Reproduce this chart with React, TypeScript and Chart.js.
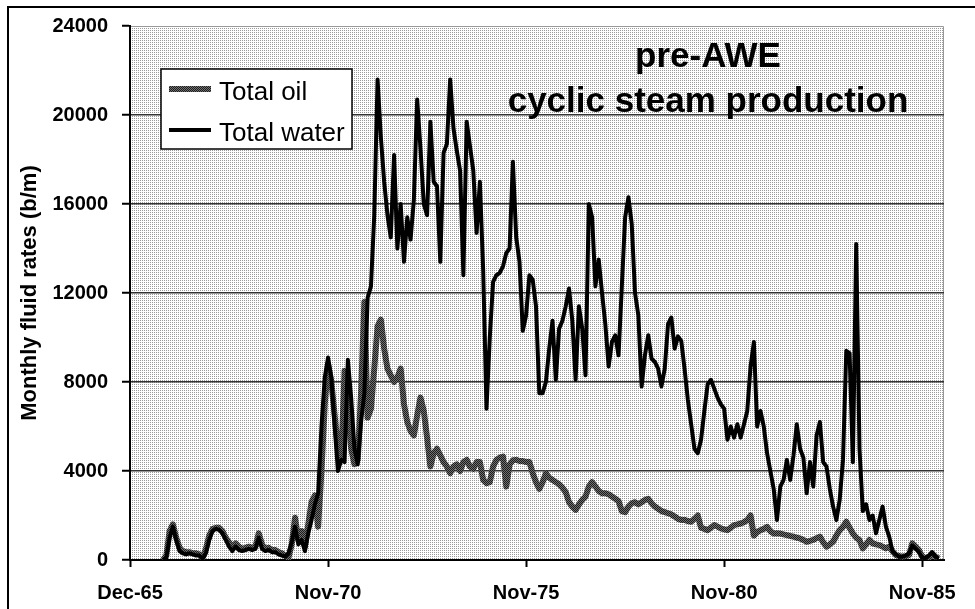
import React, { useEffect, useRef } from "react";
import { Chart, registerables } from "chart.js";

Chart.register(...registerables);

// ---- data ----
const START_MONTH = 10; // first data month, counted from Dec-65 (= month 0)
const xTickMonths = [0, 60, 120, 180, 240];
const xTickLabels = ["Dec-65", "Nov-70", "Nov-75", "Nov-80", "Nov-85"];
const yTickValues = [0, 4000, 8000, 12000, 16000, 20000, 24000];
const seriesNames = ["Total oil", "Total water"];
const titleLines = ["pre-AWE", "cyclic steam production"];
const yAxisTitle = "Monthly fluid rates (b/m)";

// monthly rates, month 10 .. 245
const oilRates = [
  0, 200, 1300, 1600, 1000, 550, 400, 350, 350, 300,
  300, 250, 100, 500, 1100, 1400, 1450, 1450, 1300, 1000,
  800, 550, 750, 600, 500, 550, 600, 550, 600, 1200,
  700, 500, 550, 450, 450, 350, 300, 200, 100, 700,
  1900, 900, 1300, 600, 1600, 2600, 2900, 1500, 4000, 7000,
  8800, 8000, 6500, 5000, 4500, 8500, 7000, 5000, 4300, 4500,
  7500, 11600, 6400, 6800, 8600, 10500, 10800, 9500, 8600, 8300,
  8000, 8200, 8600, 7000, 6200, 5800, 5600, 6500, 7300, 6700,
  5500, 4200, 4800, 5000, 4700, 4400, 4200, 3900, 4200, 4300,
  4000, 4400, 4500, 4200, 4100, 4400, 4400, 3600, 3450, 3500,
  4200, 4500, 4600, 4650, 3300, 4300, 4480, 4500, 4450, 4450,
  4400, 4400, 3900, 3500, 3200, 3500, 3900, 3700, 3600, 3500,
  3400, 3250, 3050, 2600, 2400, 2250, 2500, 2700, 2850, 3300,
  3500, 3300, 3100, 3000, 3000, 2950, 2850, 2750, 2650, 2200,
  2150, 2400, 2550, 2600, 2500, 2600, 2700, 2750, 2550, 2400,
  2300, 2200, 2150, 2100, 2050, 1950, 1850, 1800, 1800, 1750,
  1720, 1850, 2000, 1450, 1400, 1340, 1450, 1570, 1500, 1420,
  1380, 1340, 1450, 1570, 1600, 1640, 1700, 1790, 2000, 1100,
  1250, 1340, 1400, 1490, 1300, 1190, 1200, 1190, 1150, 1120,
  1080, 1050, 1000, 970, 900, 820, 860, 900, 980, 1050,
  800, 600, 700, 820, 1100, 1340, 1490, 1720, 1450, 1190,
  1000, 900, 520, 700, 900, 750, 700, 670, 600, 520,
  600, 400, 220, 180, 150, 180, 220, 750, 600, 450,
  150, 100, 75, 300, 150, 75,
];

const waterRates = [
  0, 100, 1000, 1500, 900, 400, 300, 250, 300, 250,
  200, 200, 50, 300, 900, 1300, 1400, 1350, 1200, 900,
  600, 400, 600, 450, 400, 450, 500, 450, 500, 1000,
  500, 400, 450, 350, 350, 250, 200, 150, 300, 800,
  1500, 700, 900, 400, 1200, 1800, 2500, 3000, 6000, 8200,
  9100, 8200, 6000, 4000, 4500, 4400, 9000, 7300, 5000, 4300,
  6200, 7500, 11800, 12300, 15500, 21600, 19000, 17000, 15500, 14500,
  18200, 14000, 16000, 13400, 15400, 14400, 16200, 20700, 18500, 16000,
  15500, 19700, 17000, 16800, 13400, 18300, 18700, 21600, 19400, 18400,
  17500, 12800, 19700, 18600, 17500, 14700, 17000, 13000, 6800, 10000,
  12500, 12800, 12900, 13200, 13800, 14000, 17900, 14500, 13400, 10300,
  11000, 12800, 12600, 11400, 7500, 7500, 8000, 9500, 10750, 8100,
  10400, 10750, 11400, 12200, 10750, 8100, 11400, 10400, 8300, 16000,
  15400, 12300, 13500, 12000, 10600, 8700, 9800, 10100, 9200, 12300,
  15400, 16300, 15100, 12000, 11000, 7800, 9200, 10100, 9050, 8900,
  8600, 7800, 8600, 10600, 10900, 9500, 10050, 9850, 8600, 7200,
  6100, 5000, 4800, 5400, 6700, 7900, 8100, 7700, 7300, 7000,
  6800, 5400, 6000, 5500, 6100, 5500, 6100, 6700, 8700, 9800,
  6000, 6700, 6000, 4800, 4000, 3200, 1800, 3300, 3600, 4500,
  3600, 4700, 6100, 5000, 4600, 3000, 4400, 3300, 5600, 6200,
  4400, 4200, 3200, 2400, 1800, 2700, 4500, 9400, 9300, 4400,
  14200, 5000, 2200, 2500, 1800, 2000, 1200, 1800, 2400, 1500,
  1050, 400, 250, 150, 150, 200, 300, 650, 500, 350,
  100, 80, 200, 350, 150, 60,
];

const FONT = '"Liberation Sans", Arial, Helvetica, sans-serif';

function makePattern(colors: string[][]): CanvasPattern | string {
  const c = document.createElement("canvas");
  c.width = colors[0].length;
  c.height = colors.length;
  const g = c.getContext("2d");
  if (!g) return colors[0][0];
  for (let y = 0; y < colors.length; y++) {
    for (let x = 0; x < colors[y].length; x++) {
      g.fillStyle = colors[y][x];
      g.fillRect(x, y, 1, 1);
    }
  }
  const p = g.createPattern(c, "repeat");
  return p || colors[0][0];
}

export default function App() {
  const canvasRef = useRef<HTMLCanvasElement | null>(null);

  useEffect(() => {
    const canvas = canvasRef.current;
    if (!canvas) return;

    const bgPattern = makePattern([
      ["#9a9a9a", "#ffffff"],
      ["#ffffff", "#ffffff"],
    ]);
    const oilPattern = makePattern([
      ["#1c1c1c", "#707070"],
      ["#707070", "#1c1c1c"],
    ]);

    const toPoints = (arr: number[]) =>
      arr.map((v, i) => ({ x: START_MONTH + i, y: v }));

    const backgroundPlugin = {
      id: "bgFrame",
      beforeDraw(chart: any) {
        const { ctx, chartArea, width, height } = chart;
        ctx.save();
        ctx.fillStyle = "#ffffff";
        ctx.fillRect(0, 0, width, height);
        // outer frame (top + left visible)
        ctx.fillStyle = "#000";
        ctx.fillRect(7, 6, width - 7, 2);
        ctx.fillRect(7, 6, 2, height - 6);
        // plot background
        ctx.fillStyle = bgPattern;
        ctx.fillRect(
          chartArea.left,
          chartArea.top,
          chartArea.right - chartArea.left,
          chartArea.bottom - chartArea.top
        );
        ctx.strokeStyle = "#999";
        ctx.lineWidth = 1;
        ctx.beginPath();
        ctx.moveTo(chartArea.left, chartArea.top + 0.5);
        ctx.lineTo(chartArea.right - 0.5, chartArea.top + 0.5);
        ctx.lineTo(chartArea.right - 0.5, chartArea.bottom);
        ctx.stroke();
        ctx.restore();
      },
    };

    const overlayPlugin = {
      id: "overlay",
      afterDraw(chart: any) {
        const { ctx, chartArea } = chart;
        ctx.save();
        // title
        ctx.fillStyle = "#000";
        ctx.font = `bold 35px ${FONT}`;
        ctx.textAlign = "center";
        ctx.textBaseline = "alphabetic";
        const cx = chartArea.right - 236;
        ctx.fillText(titleLines[0], cx, chartArea.top + 41);
        ctx.fillText(titleLines[1], cx, chartArea.top + 86);

        // legend box
        const lx = chartArea.left + 31;
        const ly = chartArea.top + 43;
        const lw = 191;
        const lh = 80;
        ctx.fillStyle = "#fff";
        ctx.fillRect(lx, ly, lw, lh);
        ctx.strokeStyle = "#000";
        ctx.lineWidth = 1.5;
        ctx.strokeRect(lx, ly, lw, lh);

        ctx.lineCap = "butt";
        ctx.strokeStyle = oilPattern;
        ctx.lineWidth = 6;
        ctx.beginPath();
        ctx.moveTo(lx + 8, ly + 20);
        ctx.lineTo(lx + 50, ly + 20);
        ctx.stroke();

        ctx.strokeStyle = "#000";
        ctx.lineWidth = 4;
        ctx.beginPath();
        ctx.moveTo(lx + 8, ly + 61);
        ctx.lineTo(lx + 50, ly + 61);
        ctx.stroke();

        ctx.fillStyle = "#000";
        ctx.font = `26px ${FONT}`;
        ctx.textAlign = "left";
        ctx.textBaseline = "alphabetic";
        ctx.fillText(seriesNames[0], lx + 58, ly + 31);
        ctx.fillText(seriesNames[1], lx + 58, ly + 72);
        ctx.restore();
      },
    };

    const chart = new Chart(canvas, {
      type: "line",
      data: {
        datasets: [
          {
            label: seriesNames[0],
            data: toPoints(oilRates),
            borderColor: oilPattern as any,
            borderWidth: 6,
            pointRadius: 0,
            tension: 0,
            fill: false,
            borderJoinStyle: "round",
            order: 2,
          },
          {
            label: seriesNames[1],
            data: toPoints(waterRates),
            borderColor: "#000",
            borderWidth: 4,
            pointRadius: 0,
            tension: 0,
            fill: false,
            borderJoinStyle: "round",
            order: 1,
          },
        ],
      },
      options: {
        animation: false,
        responsive: true,
        maintainAspectRatio: false,
        devicePixelRatio: 1,
        layout: { padding: { top: 24, right: 31, left: 0, bottom: 0 } },
        plugins: {
          legend: { display: false },
          title: { display: false },
          tooltip: { enabled: false },
        },
        scales: {
          x: {
            type: "linear",
            min: 0,
            max: 246.6,
            afterBuildTicks: (s: any) => {
              s.ticks = xTickMonths.map((v) => ({ value: v }));
            },
            afterFit: (s: any) => {
              s.height = 49;
            },
            grid: {
              drawOnChartArea: false,
              drawTicks: true,
              tickLength: 7,
              tickColor: "#000",
              tickWidth: 2,
            },
            border: { display: true, color: "#000", width: 2 },
            ticks: {
              autoSkip: false,
              maxRotation: 0,
              padding: 14,
              color: "#000",
              font: { family: FONT, size: 20, weight: "bold" },
              callback: (v: any) => {
                const i = xTickMonths.indexOf(Number(v));
                return i >= 0 ? xTickLabels[i] : "";
              },
            },
          },
          y: {
            type: "linear",
            min: 0,
            max: 24000,
            afterBuildTicks: (s: any) => {
              s.ticks = yTickValues.map((v) => ({ value: v }));
            },
            afterFit: (s: any) => {
              s.width = 130;
            },
            grid: {
              color: (c: any) => {
                const v = c.tick ? c.tick.value : null;
                return v === 0 || v === 24000 ? "rgba(0,0,0,0)" : "#333";
              },
              lineWidth: 1.5,
              drawTicks: true,
              tickLength: 8,
              tickColor: "#000",
              tickWidth: 2,
            },
            border: { display: true, color: "#000", width: 2 },
            ticks: {
              padding: 14,
              color: "#000",
              font: { family: FONT, size: 20, weight: "bold" },
              callback: (v: any) => String(v),
            },
            title: {
              display: true,
              text: yAxisTitle,
              color: "#000",
              font: { family: FONT, size: 22, weight: "bold" },
              padding: { top: 17, bottom: 0 },
            },
          },
        },
      },
      plugins: [backgroundPlugin, overlayPlugin],
    } as any);

    return () => {
      chart.destroy();
    };
  }, []);

  return (
    <div
      style={{
        position: "absolute",
        left: 0,
        top: 0,
        width: 975,
        height: 609,
        background: "#fff",
        overflow: "hidden",
      }}
    >
      <canvas ref={canvasRef} />
    </div>
  );
}
